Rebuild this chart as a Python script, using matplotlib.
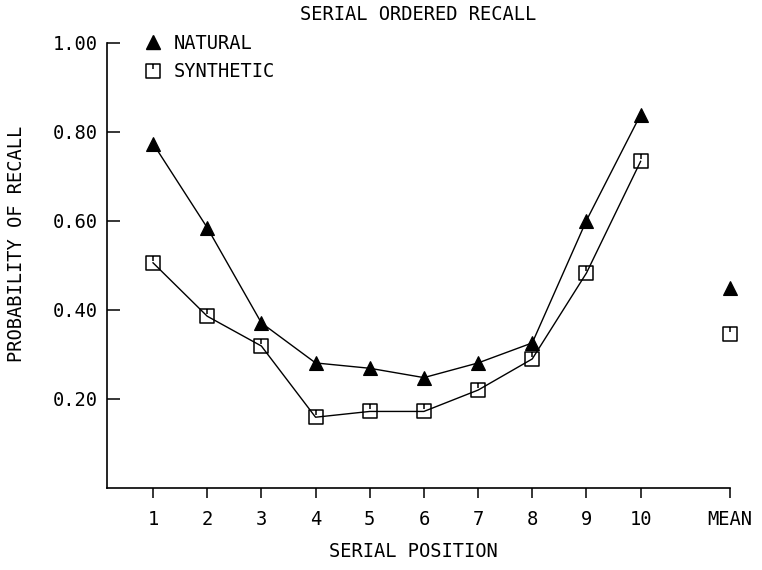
import matplotlib.pyplot as plt
from matplotlib.path import Path
from matplotlib.lines import Line2D

# Serial positions and recall probabilities
positions = [1, 2, 3, 4, 5, 6, 7, 8, 9, 10]
natural = [0.774, 0.585, 0.371, 0.281, 0.269, 0.248, 0.281, 0.326, 0.601, 0.839]
synthetic = [0.506, 0.386, 0.319, 0.159, 0.172, 0.172, 0.220, 0.290, 0.483, 0.734]
mean_pos = 11.65
natural_mean = 0.450
synthetic_mean = 0.346

x_ticks = positions + [mean_pos]
x_labels = [str(p) for p in positions] + ['MEAN']
y_ticks = [0.2, 0.4, 0.6, 0.8, 1.0]
y_labels = ['0.20', '0.40', '0.60', '0.80', '1.00']

plt.rcParams['font.family'] = ['DejaVu Sans Mono']

# Square with a little stem at the top, like the plotter symbol
box = Path([(-1, -1), (1, -1), (1, 1), (-1, 1), (-1, -1), (0, 1), (0, 0.25)],
           [Path.MOVETO, Path.LINETO, Path.LINETO, Path.LINETO, Path.CLOSEPOLY,
            Path.MOVETO, Path.LINETO])

fig = plt.figure(figsize=(7.62, 5.70), dpi=100)
ax = fig.add_axes([0.1404, 0.1439, 0.8176, 0.7807])

ax.plot(positions, natural, '-', color='black', linewidth=1.0,
        marker='^', markersize=10, markerfacecolor='black', markeredgewidth=0.8)
ax.plot(positions, synthetic, '-', color='black', linewidth=1.0,
        marker=box, markersize=9.5, markerfacecolor='none', markeredgewidth=1.1)
ax.plot([mean_pos], [natural_mean], linestyle='none', color='black', clip_on=False,
        marker='^', markersize=10, markerfacecolor='black', markeredgewidth=0.8)
ax.plot([mean_pos], [synthetic_mean], linestyle='none', color='black', clip_on=False,
        marker=box, markersize=9.5, markerfacecolor='none', markeredgewidth=1.1)

ax.set_xlim(0.15, mean_pos)
ax.set_ylim(0, 1.0)
ax.set_xticks(x_ticks)
ax.set_xticklabels(x_labels)
ax.set_yticks(y_ticks)
ax.set_yticklabels(y_labels)
ax.tick_params(axis='x', direction='out', length=7, width=1.1, pad=9, labelsize=13.5)
ax.tick_params(axis='y', direction='in', length=9, width=1.1, pad=7, labelsize=13.5)

for side in ['top', 'right']:
    ax.spines[side].set_visible(False)
for side in ['left', 'bottom']:
    ax.spines[side].set_linewidth(1.2)
ax.spines['left'].set_clip_on(False)

handles = [
    Line2D([], [], linestyle='none', color='black', marker='^', markersize=10,
           markerfacecolor='black'),
    Line2D([], [], linestyle='none', color='black', marker=box, markersize=9.5,
           markerfacecolor='none', markeredgewidth=1.1),
]
ax.legend(handles, ['NATURAL', 'SYNTHETIC'], loc='upper left',
          bbox_to_anchor=(0.032, 1.058), frameon=False, fontsize=13.5,
          handlelength=1.0, handletextpad=0.6, labelspacing=0.5)

fig.text(0.549, 0.974, 'SERIAL ORDERED RECALL', ha='center', va='center', fontsize=13.5)
fig.text(0.542, 0.032, 'SERIAL POSITION', ha='center', va='center', fontsize=13.5)
fig.text(0.021, 0.573, 'PROBABILITY OF RECALL', ha='center', va='center',
         rotation=90, fontsize=13.5)

fig.savefig('out.png', dpi=100)
